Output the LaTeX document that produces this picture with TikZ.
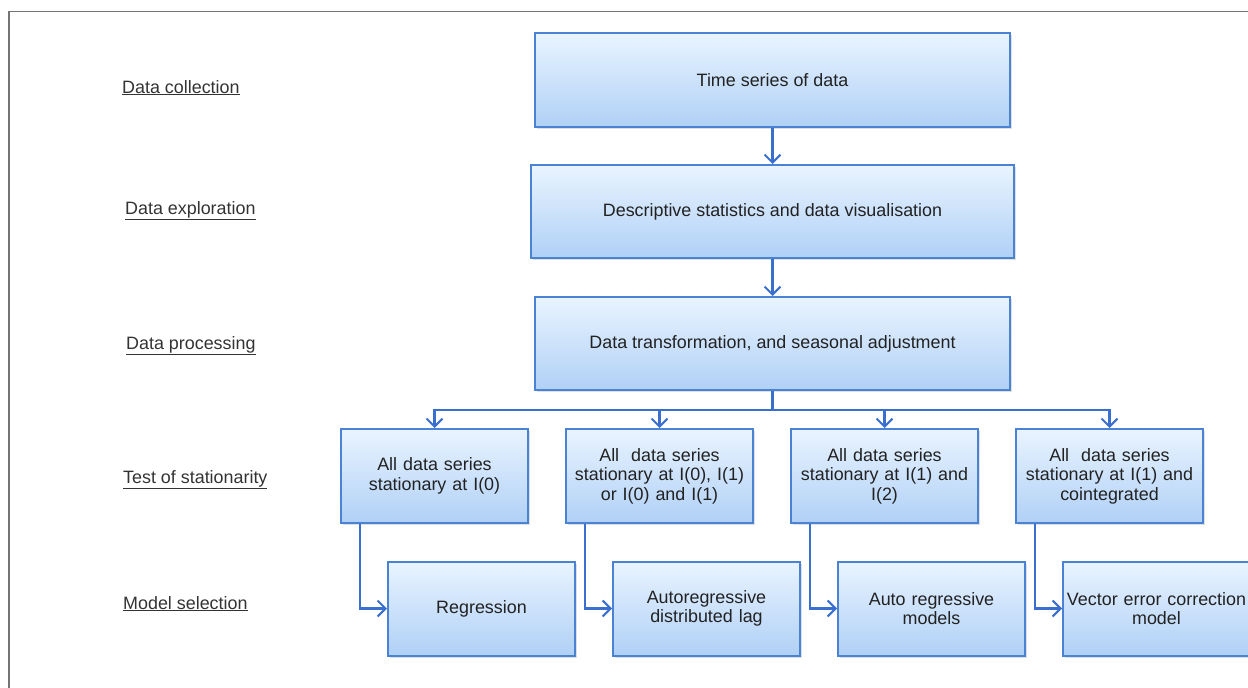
\documentclass[tikz,border=0pt]{standalone}
\usepackage{fontspec}
\setmainfont{Liberation Sans}
\usetikzlibrary{arrows.meta,shadows}
\definecolor{boxtop}{HTML}{E9F4FF}
\definecolor{boxbot}{HTML}{B0D0F6}
\definecolor{boxline}{HTML}{4A82D4}
\definecolor{arrcol}{HTML}{3B6FCF}
\definecolor{txt}{HTML}{222222}
\definecolor{labtxt}{HTML}{333333}
\definecolor{frame}{HTML}{747474}
\tikzset{
  flowbox/.style={draw=boxline, line width=2pt, top color=boxtop, bottom color=boxbot,
    inner sep=2pt, align=center, text=txt, font=\fontsize{17.9}{19.5}\selectfont,
    drop shadow={opacity=0.25, shadow xshift=1.5pt, shadow yshift=-2pt}},
  widebox/.style={flowbox, minimum width=475pt, minimum height=94pt},
  smallbox/.style={flowbox, minimum width=187pt, minimum height=94pt, text width=183pt},
  arr/.style={draw=arrcol, line width=2.2pt, -{Straight Barb[length=8pt,width=16pt,line width=2pt]}},
  stagelab/.style={anchor=base west, inner sep=0pt, text=labtxt, font=\fontsize{17.9}{19.5}\selectfont}
}
\begin{document}
\begin{tikzpicture}[x=1pt,y=-1pt]
\useasboundingbox (0,0) rectangle (1248,688);
\draw[frame, line width=1.8pt] (9,690) -- (9,11.5) -- (1250,11.5);

% stage labels
\node[stagelab] (l1) at (122,93) {\underline{Data collection}};
\node[stagelab] (l2) at (125,214) {\underline{Data exploration}};
\node[stagelab] (l3) at (126,349) {\underline{Data processing}};
\node[stagelab] (l4) at (123,483) {\underline{Test of stationarity}};
\node[stagelab] (l5) at (123,609) {\underline{Model selection}};

% main boxes
\node[widebox] (b1) at (772.5,80) {Time series of data};
\node[widebox, minimum width=483pt, minimum height=93pt] (b2) at (772.5,211.5) {Descriptive statistics and data visualisation};
\node[widebox, minimum height=93pt] (b3) at (772.5,343.5) {Data transformation, and seasonal adjustment};

% stationarity boxes
\node[smallbox] (s1) at (434.5,476) {All data series\\stationary at I(0)};
\node[smallbox] (s2) at (659.5,476) {All\ \ data series\\stationary at I(0), I(1)\\or I(0) and I(1)};
\node[smallbox] (s3) at (884.5,476) {All data series\\stationary at I(1) and\\I(2)};
\node[smallbox] (s4) at (1109.5,476) {All\ \ data series\\stationary at I(1) and\\cointegrated};

% model boxes
\node[smallbox] (m1) at (481.5,608.5) {Regression};
\node[smallbox] (m2) at (706.5,608.5) {Autoregressive\\distributed lag};
\node[smallbox] (m3) at (931.5,608.5) {Auto regressive\\models};
\node[smallbox] (m4) at (1156.5,608.5) {Vector error correction\\model};

% connectors
\draw[arr] (b1.south) -- (b2.north);
\draw[arr] (b2.south) -- (b3.north);
\coordinate (split) at (772.5,410);
\draw[arr] (b3.south) -- (split) -| (s1.north);
\draw[arr] (split) -| (s2.north);
\draw[arr] (split) -| (s3.north);
\draw[arr] (split) -| (s4.north);

\draw[arr] ([xshift=-74.5pt]s1.south) |- (m1.west);
\draw[arr] ([xshift=-74.5pt]s2.south) |- (m2.west);
\draw[arr] ([xshift=-74.5pt]s3.south) |- (m3.west);
\draw[arr] ([xshift=-74.5pt]s4.south) |- (m4.west);
\end{tikzpicture}
\end{document}
